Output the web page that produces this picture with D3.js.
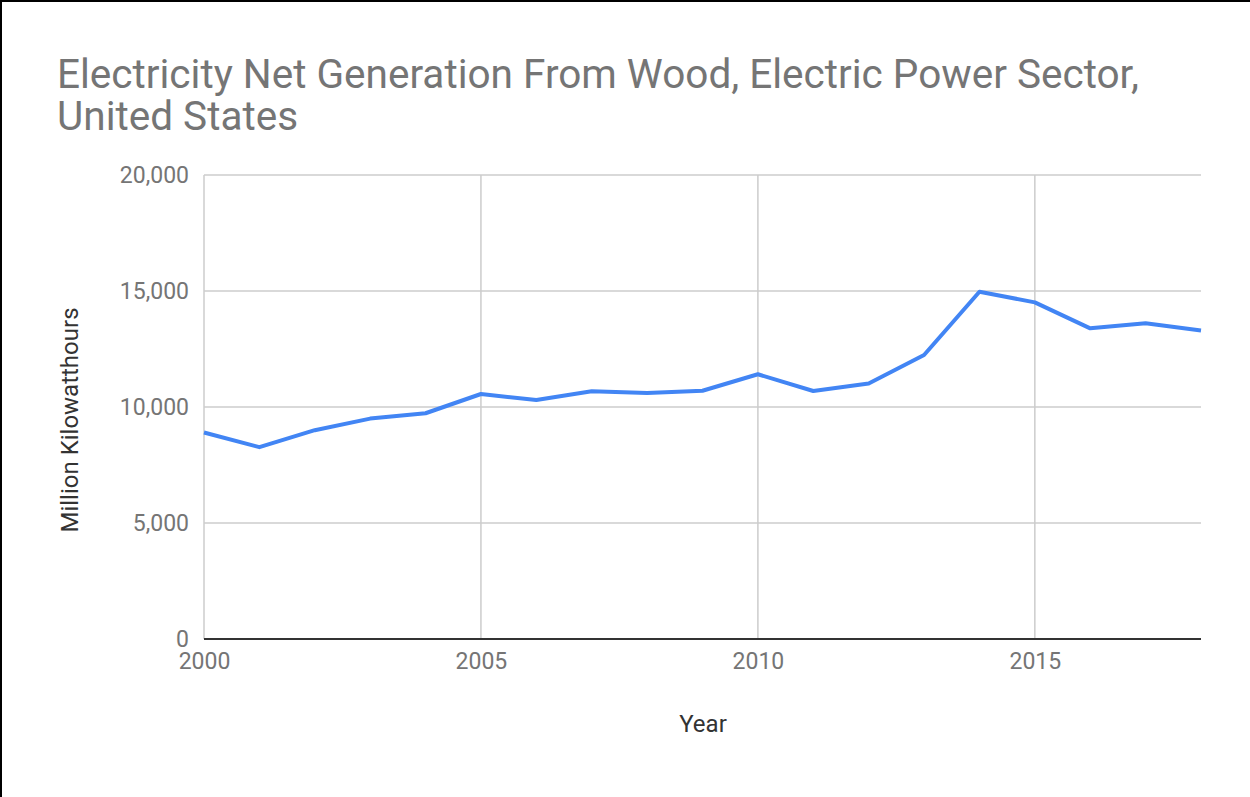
<!DOCTYPE html>
<html>
<head>
<meta charset="utf-8">
<script src="https://cdn.jsdelivr.net/npm/d3@7"></script>
<style>
  body { margin: 0; background: #fff; }
  svg { display: block; }
</style>
</head>
<body>
<div id="chart"></div>
<script>
// du lieu doc tu hinh
var years = [2000, 2001, 2002, 2003, 2004, 2005, 2006, 2007, 2008, 2009,
             2010, 2011, 2012, 2013, 2014, 2015, 2016, 2017, 2018];
var generation = [8900, 8270, 9000, 9500, 9730, 10560, 10300, 10680, 10600, 10700,
                  11410, 10690, 11010, 12240, 14970, 14510, 13390, 13610, 13300];
var xTicks = [2000, 2005, 2010, 2015];
var yTicks = [0, 5000, 10000, 15000, 20000];

var width = 1250, height = 797;
var margin = {top: 175, right: 49, bottom: 158, left: 204};

var svg = d3.select("#chart").append("svg")
  .attr("width", width)
  .attr("height", height);

// khung (chi trai va tren)
svg.append("line").attr("x1", 1).attr("x2", 1).attr("y1", 0).attr("y2", height)
  .attr("stroke", "#000").attr("stroke-width", 2);
svg.append("line").attr("x1", 0).attr("x2", width).attr("y1", 1).attr("y2", 1)
  .attr("stroke", "#000").attr("stroke-width", 2);

var x = d3.scaleLinear()
  .domain([2000, 2018])
  .range([margin.left, width - margin.right]);

var y = d3.scaleLinear()
  .domain([0, 20000])
  .range([height - margin.bottom, margin.top]);

// tieu de
var title = svg.append("text")
  .attr("font-family", "Roboto")
  .attr("font-size", "40.5px")
  .attr("fill", "#757575");
title.append("tspan").attr("x", 57).attr("y", 88)
  .text("Electricity Net Generation From Wood, Electric Power Sector,");
title.append("tspan").attr("x", 57).attr("y", 130)
  .text("United States");

// luoi ngang
svg.append("g")
  .selectAll("line")
  .data(yTicks.filter(function(d) { return d > 0; }))
  .enter().append("line")
  .attr("x1", x(2000)).attr("x2", x(2018))
  .attr("y1", function(d) { return y(d); })
  .attr("y2", function(d) { return y(d); })
  .attr("stroke", "#cccccc").attr("stroke-width", 1.5);

// luoi doc
svg.append("g")
  .selectAll("line")
  .data(xTicks)
  .enter().append("line")
  .attr("x1", function(d) { return x(d); })
  .attr("x2", function(d) { return x(d); })
  .attr("y1", y(0)).attr("y2", y(20000))
  .attr("stroke", "#cccccc").attr("stroke-width", 1.5);

// truc y
var yAxis = svg.append("g")
  .attr("transform", "translate(" + (margin.left - 12) + ",0)")
  .call(d3.axisLeft(y).tickValues(yTicks).tickSize(0).tickFormat(d3.format(",")));
yAxis.select(".domain").remove();
yAxis.selectAll("text")
  .attr("font-family", "Roboto")
  .attr("font-size", "23px")
  .attr("fill", "#757575");

// truc x
var xAxis = svg.append("g")
  .attr("transform", "translate(0," + (y(0) + 11) + ")")
  .call(d3.axisBottom(x).tickValues(xTicks).tickSize(0).tickFormat(d3.format("d")));
xAxis.select(".domain").remove();
xAxis.selectAll("text")
  .attr("font-family", "Roboto")
  .attr("font-size", "23px")
  .attr("fill", "#757575");

// duong day 0
svg.append("line")
  .attr("x1", x(2000)).attr("x2", x(2018))
  .attr("y1", y(0)).attr("y2", y(0))
  .attr("stroke", "#333333").attr("stroke-width", 2);

// duong du lieu
var line = d3.line()
  .x(function(d, i) { return x(years[i]); })
  .y(function(d) { return y(d); });

svg.append("path")
  .datum(generation)
  .attr("d", line)
  .attr("fill", "none")
  .attr("stroke", "#4285f4")
  .attr("stroke-width", 4)
  .attr("stroke-linejoin", "round");

// ten truc
svg.append("text")
  .attr("x", 703)
  .attr("y", 732)
  .attr("text-anchor", "middle")
  .attr("font-family", "Roboto")
  .attr("font-size", "24px")
  .attr("fill", "#333333")
  .text("Year");

svg.append("text")
  .attr("transform", "translate(78,420) rotate(-90)")
  .attr("text-anchor", "middle")
  .attr("font-family", "Roboto")
  .attr("font-size", "24px")
  .attr("fill", "#333333")
  .text("Million Kilowatthours");
</script>
</body>
</html>
